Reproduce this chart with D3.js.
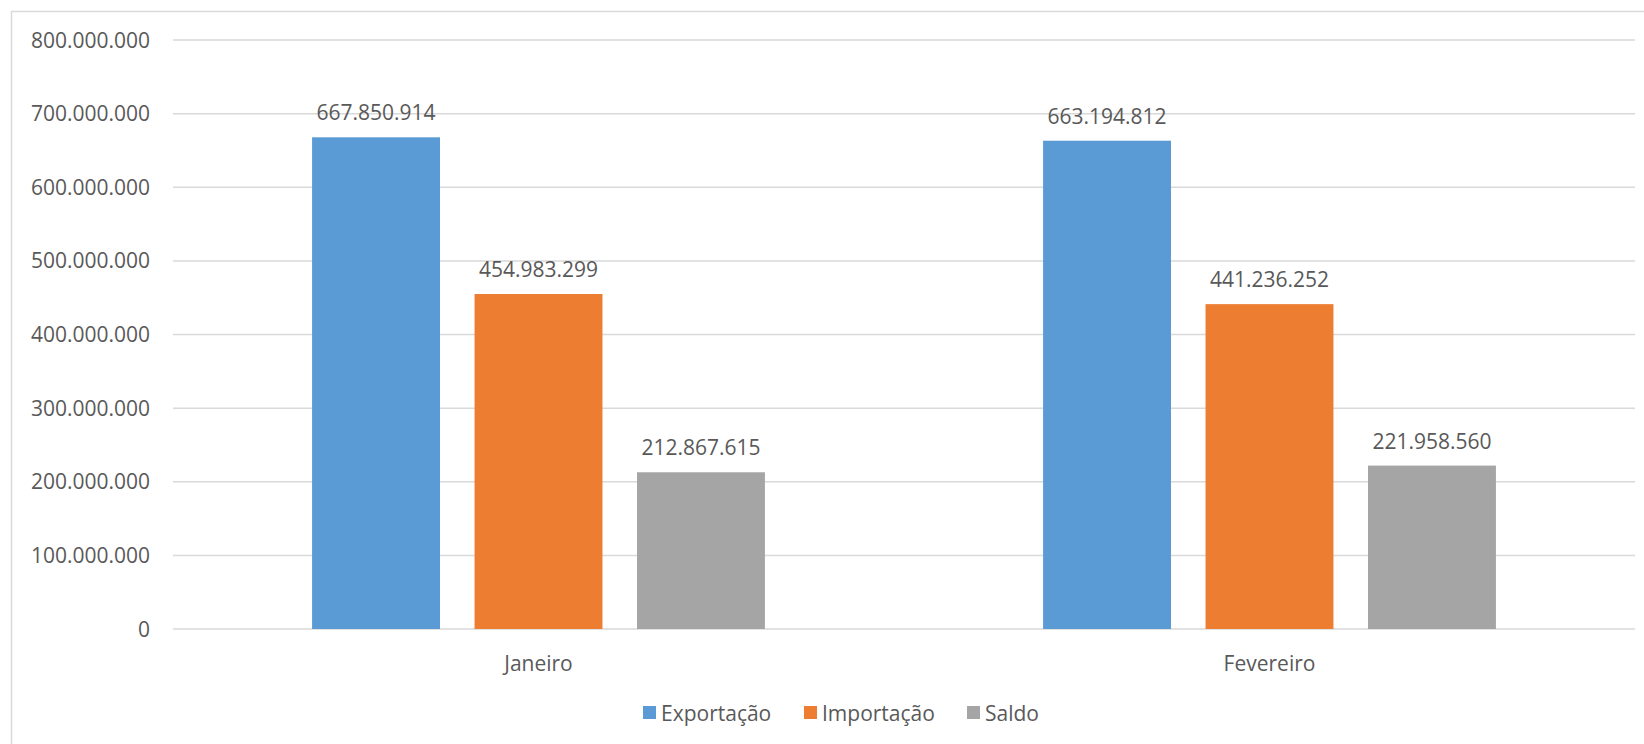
<!DOCTYPE html>
<html>
<head>
<meta charset="utf-8">
<script src="https://cdn.jsdelivr.net/npm/d3@7"></script>
<style>
  body { margin: 0; background: #fff; }
  text { font-family: "Open Sans", sans-serif; fill: #595959; }
</style>
</head>
<body>
<div id="chart"></div>
<script>
// data
var months = ["Janeiro", "Fevereiro"]
var series = ["Exportação", "Importação", "Saldo"]
var exportacao = [667850914, 663194812]
var importacao = [454983299, 441236252]
var saldo = [212867615, 221958560]
var yTicks = [0, 100000000, 200000000, 300000000, 400000000, 500000000, 600000000, 700000000, 800000000]
var colors = ["#5B9BD5", "#ED7D31", "#A5A5A5"]

var values = [exportacao, importacao, saldo]

var ptBR = d3.formatLocale({decimal: ",", thousands: ".", grouping: [3], currency: ["R$", ""]})
var fmt = ptBR.format(",.0f")

var width = 1644, height = 744
var margin = {top: 40, right: 9, bottom: 115, left: 173}
var innerW = width - margin.left - margin.right,
    innerH = height - margin.top - margin.bottom

var svg = d3.select("#chart").append("svg")
    .attr("width", width)
    .attr("height", height)

// chart border
svg.append("rect")
    .attr("x", 11.5).attr("y", 11.5)
    .attr("width", width).attr("height", height)
    .attr("fill", "none")
    .attr("stroke", "#D9D9D9")
    .attr("stroke-width", 1.5)

var g = svg.append("g")
    .attr("transform", "translate(" + margin.left + "," + margin.top + ")")

var x0 = d3.scaleBand().domain(months).range([0, innerW])
var barW = x0.bandwidth() * 0.175
var gap = barW * 0.27
var groupW = 3 * barW + 2 * gap
var x1 = d3.scaleBand().domain(series)
    .range([(x0.bandwidth() - groupW) / 2, (x0.bandwidth() + groupW) / 2])
    .paddingInner(gap / (barW + gap))

var y = d3.scaleLinear().domain([0, 800000000]).range([innerH, 0])

// gridlines
g.selectAll("line.grid")
  .data(yTicks)
  .enter().append("line")
    .attr("class", "grid")
    .attr("x1", 0).attr("x2", innerW)
    .attr("y1", function(d) { return y(d) }).attr("y2", function(d) { return y(d) })
    .attr("stroke", "#D9D9D9")
    .attr("stroke-width", 1.5)

// y labels
g.selectAll("text.ytick")
  .data(yTicks)
  .enter().append("text")
    .attr("class", "ytick")
    .attr("x", -23)
    .attr("y", function(d) { return y(d) })
    .attr("dy", "0.36em")
    .attr("text-anchor", "end")
    .style("font-size", "21px")
    .text(function(d) { return fmt(d) })

// bars
var groups = g.selectAll("g.month")
  .data(months)
  .enter().append("g")
    .attr("class", "month")
    .attr("transform", function(d) { return "translate(" + x0(d) + ",0)" })

groups.selectAll("rect")
  .data(function(m, mi) { return series.map(function(s, si) { return {s: s, si: si, v: values[si][mi]} }) })
  .enter().append("rect")
    .attr("x", function(d) { return x1(d.s) })
    .attr("width", x1.bandwidth())
    .attr("y", function(d) { return y(d.v) })
    .attr("height", function(d) { return innerH - y(d.v) })
    .attr("fill", function(d) { return colors[d.si] })

groups.selectAll("text.lbl")
  .data(function(m, mi) { return series.map(function(s, si) { return {s: s, si: si, v: values[si][mi]} }) })
  .enter().append("text")
    .attr("class", "lbl")
    .attr("x", function(d) { return x1(d.s) + x1.bandwidth() / 2 })
    .attr("y", function(d) { return y(d.v) - 17 })
    .attr("text-anchor", "middle")
    .style("font-size", "21px")
    .text(function(d) { return fmt(d.v) })

// x labels
g.selectAll("text.xlbl")
  .data(months)
  .enter().append("text")
    .attr("class", "xlbl")
    .attr("x", function(d) { return x0(d) + x0.bandwidth() / 2 })
    .attr("y", innerH + 42)
    .attr("text-anchor", "middle")
    .style("font-size", "21px")
    .text(function(d) { return d })

// legend
var legX = [643, 804, 967]
var leg = svg.selectAll("g.leg")
  .data(series)
  .enter().append("g")
    .attr("class", "leg")
    .attr("transform", function(d, i) { return "translate(" + legX[i] + ",706)" })

leg.append("rect")
    .attr("width", 13).attr("height", 13)
    .attr("fill", function(d, i) { return colors[i] })

leg.append("text")
    .attr("x", 18)
    .attr("y", 7)
    .attr("dy", "0.36em")
    .style("font-size", "21px")
    .text(function(d) { return d })
</script>
</body>
</html>
